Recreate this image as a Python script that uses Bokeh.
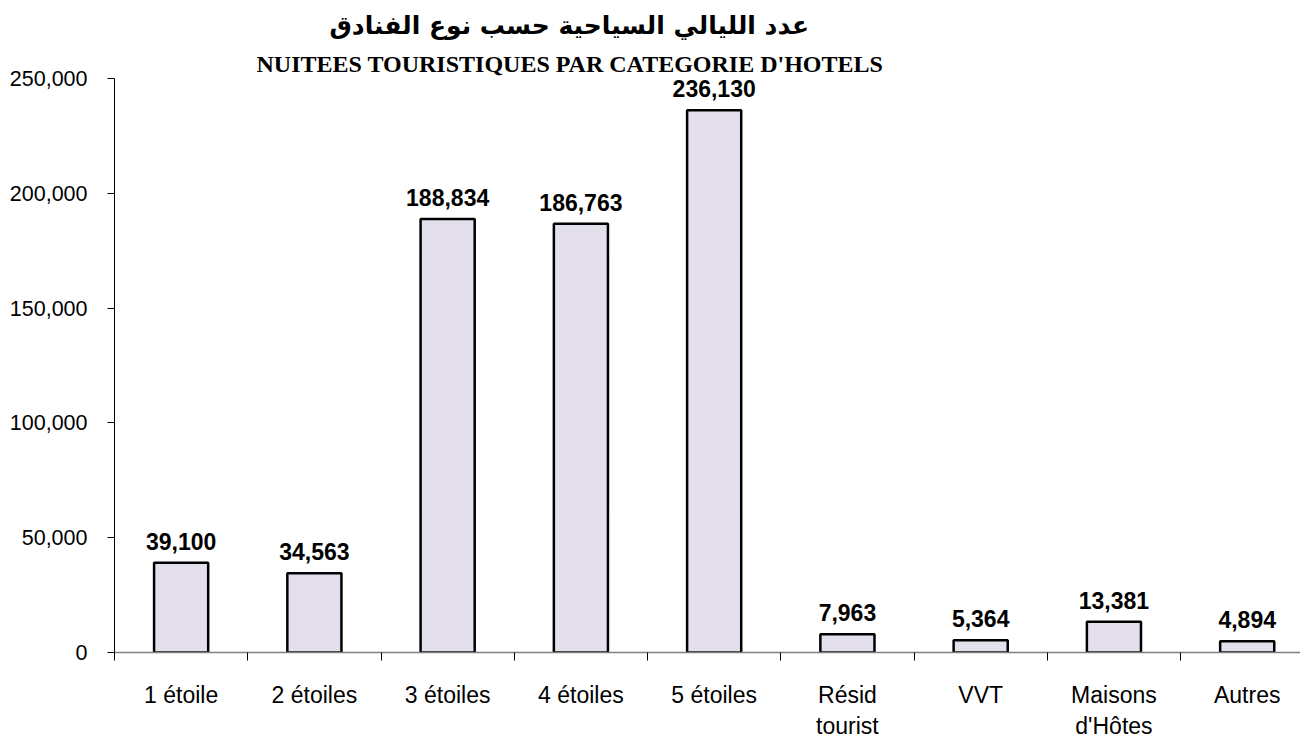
from bokeh.plotting import figure
from bokeh.models import (ColumnDataSource, FixedTicker, NumeralTickFormatter,
                          Range1d, Title, LinearAxis)
from bokeh.core.properties import value
from bokeh.embed import file_html
from bokeh.resources import INLINE

categories = ["1 étoile", "2 étoiles", "3 étoiles", "4 étoiles", "5 étoiles",
              "Résid\ntourist", "VVT", "Maisons\nd'Hôtes", "Autres"]
nights = [39100, 34563, 188834, 186763, 236130, 7963, 5364, 13381, 4894]
value_labels = ["39,100", "34,563", "188,834", "186,763", "236,130",
                "7,963", "5,364", "13,381", "4,894"]
y_ticks = [0, 50000, 100000, 150000, 200000, 250000]

title_ar = "عدد الليالي السياحية  حسب نوع الفنادق"
title_fr = "NUITEES TOURISTIQUES PAR CATEGORIE D'HOTELS"

centers = [i + 0.5 for i in range(len(categories))]
bounds = [i for i in range(len(categories) + 1)]

src = ColumnDataSource(dict(x=centers, top=nights, lab=value_labels))

p = figure(width=1300, height=745, output_backend="svg", toolbar_location=None,
           x_range=Range1d(0, 8.90), y_range=Range1d(0, 250000),
           min_border_left=114, min_border_right=0, min_border_bottom=93,
           min_border_top=78, x_axis_type=None, y_axis_type=None)
p.outline_line_color = None
p.xgrid.visible = False
p.ygrid.visible = False
p.background_fill_color = "white"
p.border_fill_color = "white"

p.title.text = title_ar
p.title.text_font = "DejaVu Sans"
p.title.text_font_style = "bold"
p.title.text_font_size = "25px"
p.title.text_color = "black"
p.title.align = "left"
p.title.offset = 215
p.title.standoff = 14
p.add_layout(Title(text=title_fr, text_font="Liberation Serif", text_font_style="bold",
                   text_font_size="24px", text_color="black", align="left",
                   offset=142, standoff=4),
             "above")

p.vbar(x="x", top="top", width=0.406, source=src, fill_color="#E4DFEC",
       line_color="black", line_width=2.5)
p.text(x="x", y="top", text="lab", source=src, text_align="center",
       text_baseline="bottom", y_offset=-13, text_font=value("Liberation Sans"),
       text_font_style="bold", text_font_size="23px", text_color="black")

xaxis = LinearAxis(ticker=FixedTicker(ticks=centers, minor_ticks=bounds))
xaxis.major_label_overrides = {c: lab for c, lab in zip(centers, categories)}
xaxis.major_tick_out = 0
xaxis.major_tick_in = 0
xaxis.minor_tick_out = 8
xaxis.minor_tick_in = 0
xaxis.minor_tick_line_color = "black"
xaxis.axis_line_color = "#808080"
xaxis.axis_line_width = 1.5
xaxis.major_label_text_font = "Liberation Sans"
xaxis.major_label_text_font_size = "23px"
xaxis.major_label_text_color = "black"
xaxis.major_label_standoff = 21
p.add_layout(xaxis, "below")

yaxis = LinearAxis(ticker=FixedTicker(ticks=y_ticks, minor_ticks=[]))
yaxis.formatter = NumeralTickFormatter(format="0,0")
yaxis.major_tick_out = 7
yaxis.major_tick_in = 0
yaxis.axis_line_color = "black"
yaxis.major_tick_line_color = "black"
yaxis.major_label_text_font = "Liberation Sans"
yaxis.major_label_text_font_size = "21.5px"
yaxis.major_label_text_color = "black"
yaxis.major_label_standoff = 20
p.add_layout(yaxis, "left")

open("out.html", "w").write(file_html(p, INLINE))
